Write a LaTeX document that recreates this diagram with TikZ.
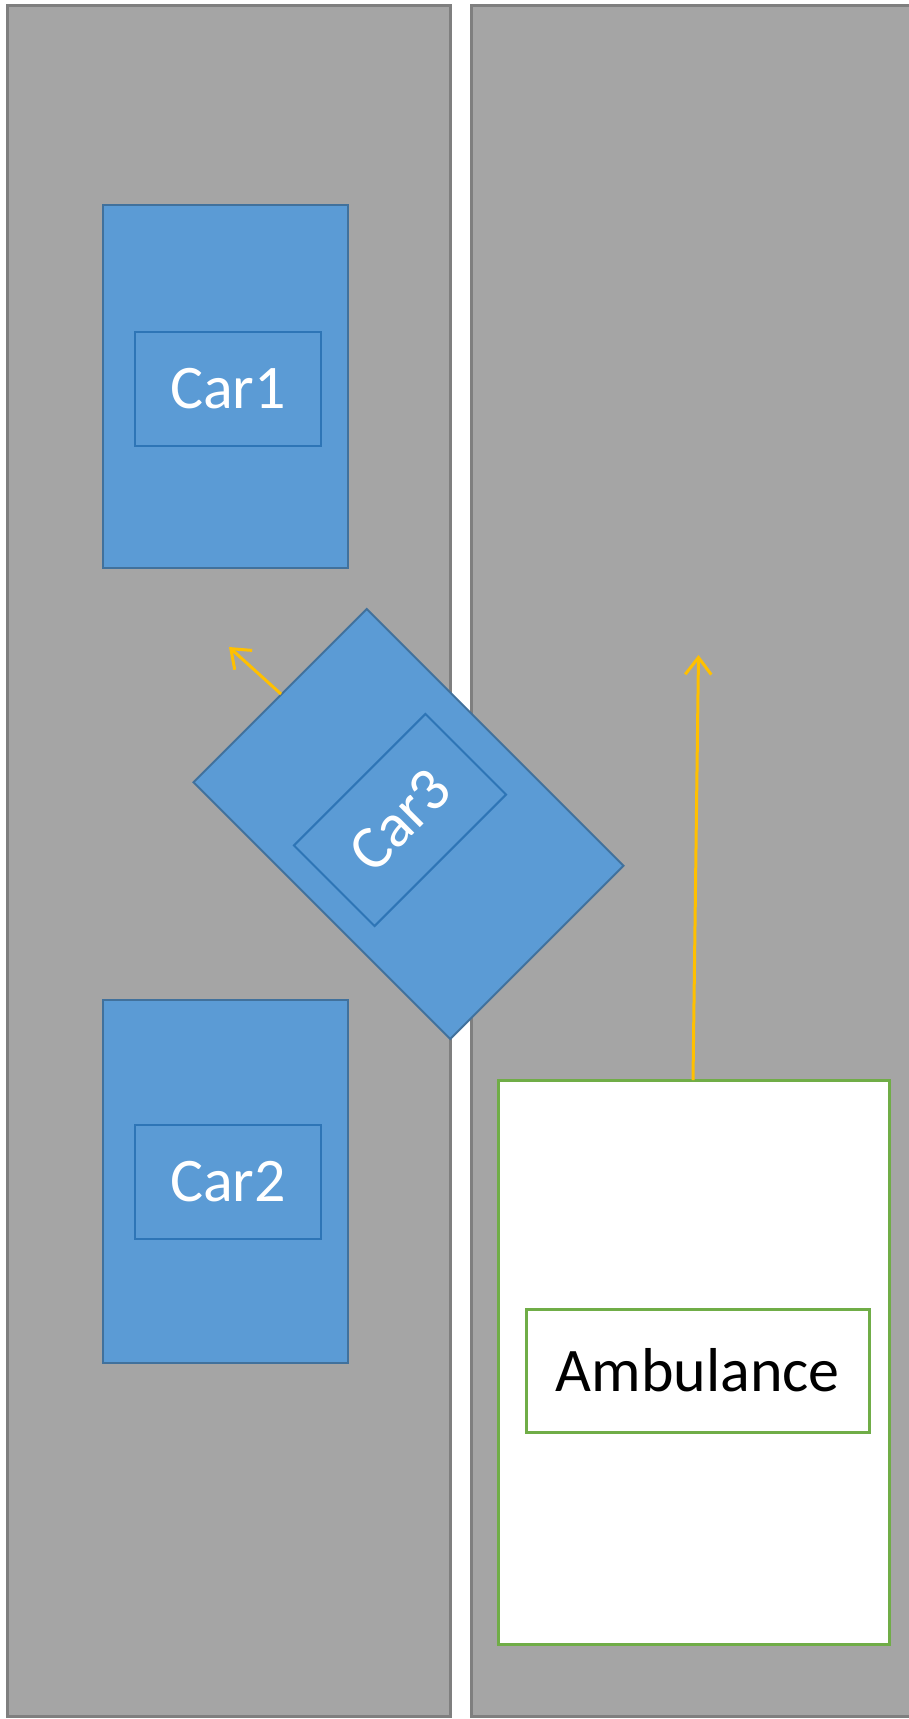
\documentclass[tikz,border=0pt]{standalone}
\usepackage{fontspec}
\setmainfont{Carlito}
\usetikzlibrary{arrows.meta}

\definecolor{lanefill}{HTML}{A5A5A5}
\definecolor{laneedge}{HTML}{7F7F7F}
\definecolor{carfill}{HTML}{5B9BD5}
\definecolor{caredge}{HTML}{41719C}
\definecolor{cabedge}{HTML}{2E75B6}
\definecolor{ambedge}{HTML}{70AD47}
\definecolor{motion}{HTML}{FFC000}

\tikzset{
  lane/.style={fill=lanefill, draw=laneedge, line width=3pt},
  carbody/.style={draw=caredge, fill=carfill, line width=2pt,
    minimum width=245pt, minimum height=363pt, inner sep=0pt},
  carcab/.style={draw=cabedge, fill=carfill, line width=2pt,
    minimum width=186pt, minimum height=114pt, inner sep=0pt,
    text=white, font=\fontsize{62}{70}\selectfont},
  ambbody/.style={draw=ambedge, fill=white, line width=3pt,
    minimum width=391pt, minimum height=564pt, inner sep=0pt},
  ambcab/.style={draw=ambedge, fill=white, line width=3pt,
    minimum width=343pt, minimum height=123pt, inner sep=0pt,
    text=black, font=\fontsize{62}{70}\selectfont},
  heading/.style={draw=motion, line width=3pt,
    -{Straight Barb[length=17pt, width=26pt, line width=3pt]}}
}

\begin{document}
\begin{tikzpicture}[x=1pt, y=-1pt]
  \useasboundingbox (0,0) rectangle (909,1719);
  \fill[white] (0,0) rectangle (909,1719);

  % two lanes
  \draw[lane] (7.5,5.5) rectangle (450.5,1716);
  \draw[lane] (471.5,5.5) rectangle (920,1716);

  % cars in the left lane
  \node[carbody] (car1) at (225.5,386.5) {};
  \node[carcab]  (cab1) at (228,389) {Car1};
  \node[carbody] (car2) at (225.5,1181.5) {};
  \node[carcab]  (cab2) at (228,1182) {Car2};

  % car turning across the lane line
  \node[carbody, rotate=45] (car3) at (408.5,824) {};
  \node[carcab, rotate=45]  (cab3) at (400,820) {Car3};

  % ambulance in the right lane
  \node[ambbody] (amb) at (693.5,1362) {};
  \node[ambcab]  (ambcab) at (697.75,1370.5) {Ambulance};

  % directions of travel
  \coordinate (car3go) at (229,647);
  \coordinate (car3from) at (281,694);
  \coordinate (ambgo) at (698.5,655);
  \coordinate (ambfrom) at (693,1080);
  \draw[heading] (car3from) -- (car3go);
  \draw[heading] (ambfrom) -- (ambgo);
\end{tikzpicture}
\end{document}
